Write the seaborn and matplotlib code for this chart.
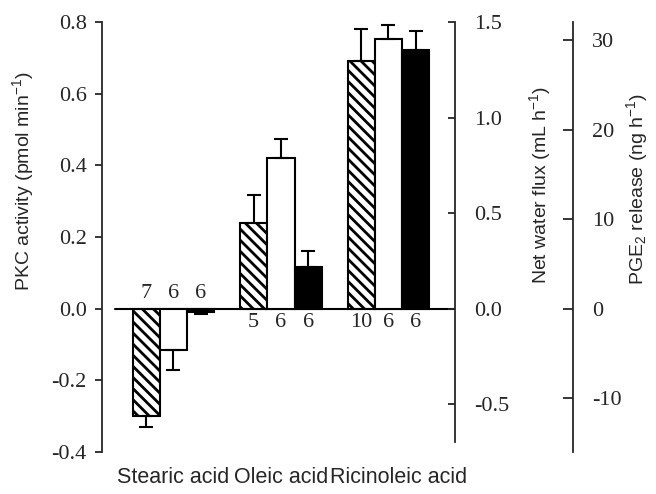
import matplotlib
matplotlib.use("Agg")
import matplotlib.pyplot as plt
import matplotlib.transforms as mtransforms
import seaborn as sns
import pandas as pd

# Categories and the three measured series (each in its own units)
acids = ["Stearic acid", "Oleic acid", "Ricinoleic acid"]
measures = ["PKC", "Flux", "PGE2"]

pkc = [-0.30, 0.24, 0.69]
pkc_err = [0.03, 0.078, 0.09]
pkc_n = [7, 5, 10]

flux = [-0.215, 0.79, 1.41]
flux_err = [0.108, 0.10, 0.076]
flux_n = [6, 6, 6]

pge2 = [-0.4, 4.6, 28.9]
pge2_err = [0.2, 1.8, 2.1]
pge2_n = [6, 6, 6]

pkc_ticks = [-0.4, -0.2, 0.0, 0.2, 0.4, 0.6, 0.8]
flux_ticks = [-0.5, 0.0, 0.5, 1.0, 1.5]
pge2_ticks = [-10, 0, 10, 20, 30]

sns.set_style("ticks")
plt.rcParams['font.family'] = ['Liberation Serif', 'DejaVu Serif']
plt.rcParams['axes.unicode_minus'] = False
plt.rcParams['hatch.linewidth'] = 2.0
plt.rcParams['hatch.color'] = 'black'
plt.rcParams['mathtext.fontset'] = 'custom'
plt.rcParams['mathtext.rm'] = 'Liberation Sans'
plt.rcParams['mathtext.it'] = 'Liberation Sans:italic'

sans = 'Liberation Sans'
stripes = chr(92) * 3  # dense back-diagonal hatch

fig = plt.figure(figsize=(6.56, 4.94), dpi=100)
ax = fig.add_axes([102 / 656, 42 / 494, 353 / 656, 430 / 494])
ax2 = ax.twinx()
ax3 = ax.twinx()

series = [
    (ax, "PKC", pkc, pkc_err, pkc_n, "white", stripes),
    (ax2, "Flux", flux, flux_err, flux_n, "white", None),
    (ax3, "PGE2", pge2, pge2_err, pge2_n, "black", None),
]

for a, name, vals, errs, ns, color, hatch in series:
    df = pd.DataFrame({"acid": acids, "value": vals, "measure": name})
    sns.barplot(data=df, x="acid", y="value", hue="measure", hue_order=measures,
                order=acids, palette={m: color for m in measures}, dodge=True,
                width=0.76, errorbar=None, edgecolor="black", linewidth=1.5,
                saturation=1, legend=False, ax=a)
    bars = sorted(a.patches, key=lambda p: p.get_x())
    if hatch:
        for b in bars:
            b.set_hatch(hatch)
    xs = [b.get_x() + b.get_width() / 2 for b in bars]
    lower = [e if v < 0 else 0 for v, e in zip(vals, errs)]
    upper = [e if v >= 0 else 0 for v, e in zip(vals, errs)]
    a.errorbar(xs, vals, yerr=[lower, upper], fmt='none', ecolor='black',
               elinewidth=1.5, capsize=5, capthick=1.5, zorder=1)
    # sample sizes sit on the opposite side of zero from the bar
    for x, v, n in zip(xs, vals, ns):
        off = 11 if v < 0 else -10
        a.annotate(str(n), xy=(x, 0), xytext=(0, off), textcoords='offset points',
                   ha='center', va='center', fontsize=16)

ax.axhline(0, xmin=0.037, xmax=1, color='black', lw=1.5, zorder=3)

ax.set_xlim(-0.665, 2.619)
ax.set_ylim(-0.4, 0.8)
ax2.set_ylim(-0.75, 1.5)
ax3.set_ylim(-16, 32)

ax.set_xticks(range(len(acids)), acids, fontfamily=sans, fontsize=15.5)
ax.tick_params(axis='x', length=0, pad=11)
ax.set_xlabel("")
lab = ax.get_xticklabels()[2]
lab.set_transform(lab.get_transform() +
                  mtransforms.ScaledTranslation(0.1, 0, fig.dpi_scale_trans))

ax.set_yticks(pkc_ticks)
ax.tick_params(axis='y', direction='out', length=5, width=1.3, labelsize=16, pad=6)
ax2.set_yticks(flux_ticks)
ax2.tick_params(axis='y', direction='in', length=5, width=1.3, labelsize=16, pad=14)
ax3.set_yticks(pge2_ticks)
ax3.tick_params(axis='y', direction='in', length=7, width=1.3, labelsize=16, pad=14)

for s in ['top', 'right', 'bottom']:
    ax.spines[s].set_visible(False)
ax.spines['left'].set_linewidth(1.3)
for a in (ax2, ax3):
    for s in ['top', 'left', 'bottom']:
        a.spines[s].set_visible(False)
    a.spines['right'].set_linewidth(1.3)
ax2.spines['right'].set_bounds(-0.7, 1.5)
ax3.spines['right'].set_position(('axes', 1.334))

ax.set_ylabel("PKC activity (pmol min$^{-1}$)", fontfamily=sans, fontsize=14)
ax2.set_ylabel("Net water flux (mL h$^{-1}$)", fontfamily=sans, fontsize=14)
ax3.set_ylabel("PGE$_2$ release (ng h$^{-1}$)", fontfamily=sans, fontsize=14)
for a, lx, ly in [(ax, -0.224, 0.630), (ax2, 1.241, 0.621), (ax3, 1.516, 0.612)]:
    a.yaxis.set_label_coords(lx, ly)
    a.yaxis.label.set_va('center')
    a.yaxis.label.set_ha('center')

fig.savefig("out.png", dpi=100)
